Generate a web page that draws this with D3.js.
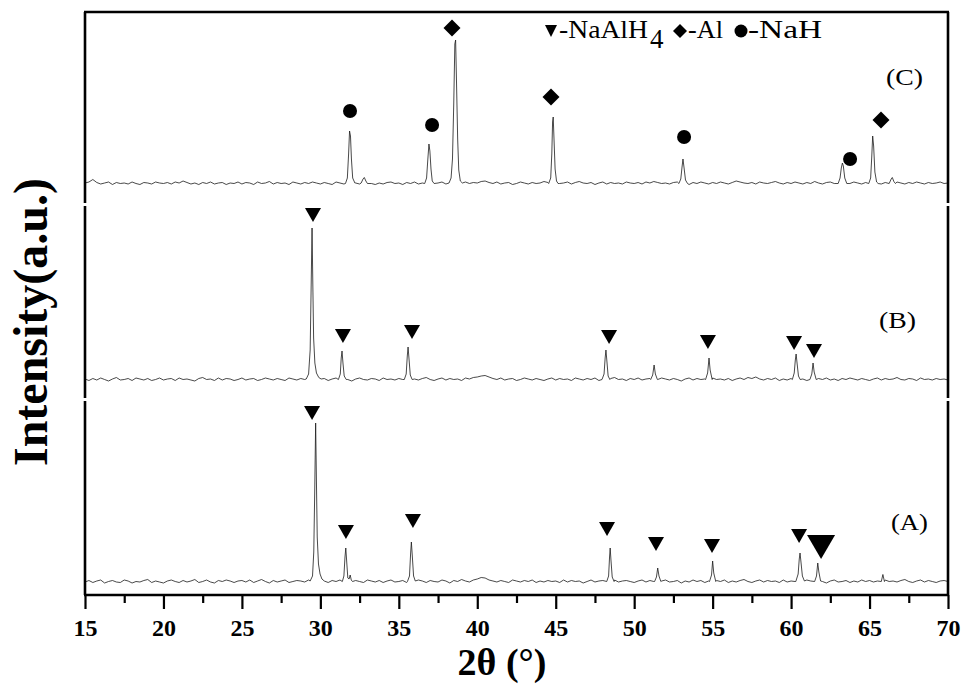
<!DOCTYPE html>
<html>
<head>
<meta charset="utf-8">
<script src="https://cdn.jsdelivr.net/npm/d3@7"></script>
<style>
  body { margin: 0; background: #fff; }
</style>
</head>
<body>
<svg id="chart" width="967" height="685"></svg>
<script>
// ---- data ----
// baseline noise of each pattern, one value every 0.25 deg from 15 to 70 (a.u. above baseline)
var thetaStart = 15, thetaStep = 0.25

var noiseA = [
  0, 15, -5, 10, 20, -10, 5, 15, 0, -5, 20, 10, -10, 5, 0, 15, 25, -5, 10, 0,
  -10, 10, 20, 5, -5, 15, 0, 10, 25, -5, 5, 20, 0, -10, 15, 5, 20, 10, -5, 10,
  15, 0, 20, -5, 10, 25, 5, -10, 15, 0, 10, 20, -5, 5, 15, 10, 0, 20, 5, -5,
  10, 0, -5, 15, 5, 20, -10, 10, 0, 15, 5, -5, 20, 10, 0, 15, -5, 10, 20, 0,
  5, 15, -5, 10, 0, 20, 10, -5, 15, 5, 0, 20, 10, -10, 15, 5, 25, 10, 0, 20,
  30, 45, 40, 20, 10, 0, 15, 5, -5, 20, 10, 0, 15, 5, 20, -5, 10, 0, 15, 5,
  10, -5, 20, 0, 15, 5, 10, -10, 5, 20, 0, 10, 15, -5, 5, 20, 0, 10, 15, 5,
  -5, 10, 20, 0, 15, 5, -5, 10, 20, 0, 5, 15, -10, 10, 0, 20, 5, 15, -5, 10,
  0, 15, 5, 20, -5, 10, 0, 15, 25, 5, -5, 10, 20, 0, 15, 5, 10, -5, 20, 0,
  10, 5, 15, -5, 20, 10, 0, 15, 5, -10, 10, 20, 0, 5, 15, -5, 10, 0, 20, 5,
  15, 0, 10, -5, 20, 5, 10, 0, 15, 25, 5, -5, 10, 20, 0, 15, 5, -5, 10, 15, 5
]
var noiseB = [
  10, -5, 15, 0, 20, 5, -10, 10, 25, 0, 5, 15, -5, 20, 10, 0, 15, -5, 5, 20,
  0, 10, 15, -5, 20, 5, 10, 0, -10, 15, 25, 5, 10, -5, 20, 0, 15, 10, -5, 5,
  20, 0, 10, 15, -5, 5, 20, 10, 0, 15, 5, -5, 20, 10, 0, 15, 5, 25, 0, 10,
  5, 15, -5, 10, 20, 0, 15, 5, -10, 10, 20, 5, 0, 15, 10, -5, 20, 5, 10, 0,
  15, 5, -5, 20, 10, 0, 15, 25, 5, -5, 10, 20, 0, 15, 5, 10, -5, 20, 10, 25,
  30, 40, 45, 30, 15, 5, 20, 0, 10, 15, -5, 5, 20, 10, 0, 15, 5, -5, 10, 20,
  0, 15, 5, 10, -5, 20, 10, 0, 15, 5, 20, -5, 10, 0, 15, 25, 5, 10, -5, 15,
  5, 20, 0, 10, 15, -5, 5, 20, 10, 0, 15, 5, -10, 10, 20, 0, 15, 5, 10, -5,
  20, 5, 10, 0, 15, -5, 10, 20, 5, 25, 15, 30, 10, 0, 15, 5, 20, -5, 10, 0,
  15, 5, 20, 10, -5, 10, 0, 15, 5, 20, 0, 10, -5, 15, 5, 20, 10, 0, 15, 5,
  -5, 10, 20, 0, 15, 5, 10, 25, 5, 0, 15, 10, -5, 20, 5, 10, 0, 15, 5, 10, 0
]
var noiseC = [
  10, 20, 45, 15, 0, 10, 20, -5, 15, 5, 10, 0, 20, 5, -5, 15, 10, 0, 20, 10,
  5, 15, 0, 20, 10, 30, 15, 0, 10, -5, 15, 5, 20, 0, 10, 15, -5, 10, 5, 20,
  0, 15, 10, -5, 20, 5, 10, 25, 0, 15, 5, 10, -5, 20, 10, 0, 15, 5, 20, 10,
  0, 15, 5, -5, 20, 10, 0, 15, 5, 10, 0, 15, 20, 5, -5, 10, 0, 15, 20, 5,
  10, -5, 15, 5, 20, 0, 10, 15, 5, -5, 10, 20, 0, 15, 5, 10, 0, 20, 5, 15,
  10, 25, 30, 15, 5, 20, 0, 10, 15, -5, 5, 20, 10, 0, 15, 5, 10, 25, 15, 0,
  15, 5, 10, 20, 0, 15, 25, 10, 5, 15, -5, 10, 20, 0, 15, 5, 10, 0, 20, 10,
  5, 15, 0, 20, 10, 25, 15, 5, 10, 0, 15, 20, 5, 10, -5, 15, 5, 20, 10, 0,
  15, 5, 20, 10, 0, 15, 30, 20, 10, 5, 15, 0, 20, 10, 5, 15, 25, 10, 0, 15,
  5, 20, 10, 0, 15, 5, 25, 10, 0, 15, 20, 5, 10, 0, 15, 5, 20, 10, 0, 15,
  5, 10, 20, 0, 15, 10, 5, 20, 10, 0, 15, 5, 20, 10, 0, 15, 5, 10, 20, 5, 10
]

// diffraction peaks [2theta, intensity]
var peaksA = [
  [[29.35,10],[29.5,60],[29.58,300],[29.64,900],[29.70,1590],[29.75,1000],[29.80,450],[29.88,180],[29.98,80],[30.1,30],[30.25,10]],
  [[31.4,5],[31.5,60],[31.57,250],[31.62,340],[31.68,200],[31.75,40],[31.83,30],[31.9,70],[31.97,20],[32.05,5]],
  [[35.55,5],[35.68,60],[35.75,280],[35.80,400],[35.86,260],[35.94,60],[36.05,10]],
  [[48.25,5],[48.37,60],[48.43,250],[48.47,340],[48.52,220],[48.6,50],[48.72,5]],
  [[51.3,5],[51.42,50],[51.5,140],[51.58,60],[51.7,5]],
  [[54.8,5],[54.93,70],[55.0,210],[55.07,90],[55.2,5]],
  [[60.3,5],[60.45,80],[60.52,230],[60.57,290],[60.63,200],[60.72,60],[60.85,10]],
  [[61.5,5],[61.62,60],[61.7,190],[61.77,100],[61.88,10]],
  [[65.75,5],[65.85,75],[65.95,5]]
]
var peaksB = [
  [[29.1,10],[29.25,60],[29.35,300],[29.41,900],[29.47,1520],[29.52,950],[29.57,420],[29.65,170],[29.75,70],[29.9,25],[30.05,10]],
  [[31.15,5],[31.27,60],[31.33,220],[31.38,290],[31.44,170],[31.52,40],[31.65,5]],
  [[35.35,5],[35.47,60],[35.54,240],[35.59,330],[35.65,210],[35.73,50],[35.85,5]],
  [[47.95,5],[48.08,60],[48.15,220],[48.2,300],[48.26,190],[48.34,40],[48.45,5]],
  [[51.05,5],[51.18,50],[51.27,150],[51.35,60],[51.48,5]],
  [[54.55,5],[54.68,70],[54.77,220],[54.84,100],[54.97,5]],
  [[60.08,5],[60.2,70],[60.27,200],[60.32,260],[60.38,170],[60.47,40],[60.58,5]],
  [[61.2,5],[61.32,60],[61.4,170],[61.47,80],[61.6,5]]
]
var peaksC = [
  [[31.6,5],[31.72,60],[31.8,300],[31.86,530],[31.92,480],[31.98,250],[32.06,60],[32.2,10]],
  [[32.6,10],[32.72,50],[32.8,65],[32.9,30],[33.0,5]],
  [[36.65,5],[36.77,60],[36.85,250],[36.92,400],[36.98,330],[37.05,150],[37.13,30],[37.25,5]],
  [[38.2,10],[38.33,60],[38.42,250],[38.5,800],[38.57,1400],[38.62,1440],[38.68,1000],[38.75,450],[38.82,140],[38.92,30],[39.05,10]],
  [[44.55,5],[44.68,60],[44.75,300],[44.8,620],[44.84,670],[44.89,450],[44.96,150],[45.05,30],[45.15,5]],
  [[52.85,5],[52.97,50],[53.05,170],[53.11,250],[53.18,160],[53.27,40],[53.4,5]],
  [[63.0,5],[63.12,60],[63.2,160],[63.27,210],[63.33,180],[63.42,60],[63.55,5]],
  [[64.95,5],[65.07,60],[65.14,270],[65.2,480],[65.26,380],[65.34,120],[65.45,20],[65.55,5]],
  [[66.25,5],[66.38,50],[66.45,65],[66.55,25],[66.65,5]]
]

// phase markers [2theta, intensity, phase]
var markersA = [[29.47,1690,"NaAlH4"],[31.63,500,"NaAlH4"],[35.9,610,"NaAlH4"],[48.27,530,"NaAlH4"],[51.39,380,"NaAlH4"],[54.96,360,"NaAlH4"],[60.51,460,"NaAlH4"],[61.91,350,"NaAlH4"]]
var markersB = [[29.53,1650,"NaAlH4"],[31.44,440,"NaAlH4"],[35.84,480,"NaAlH4"],[48.4,430,"NaAlH4"],[54.7,380,"NaAlH4"],[60.19,370,"NaAlH4"],[61.46,290,"NaAlH4"]]
var markersC = [[31.89,730,"NaH"],[37.12,590,"NaH"],[38.39,1560,"Al"],[44.7,870,"Al"],[53.18,470,"NaH"],[63.76,250,"NaH"],[65.73,640,"Al"]]

var sampleNames = ["(A)", "(B)", "(C)"]
var sampleOffsets = [130, 2150, 4110]
var xTicks = [15, 20, 25, 30, 35, 40, 45, 50, 55, 60, 65, 70]

// ---- drawing ----
var serif = "'Liberation Serif', 'Times New Roman', Times, serif"
var svg = d3.select("#chart")
var box = {left: 85, right: 948, top: 12, bottom: 595}

var xScale = d3.scaleLinear().domain([15, 70]).range([box.left, box.right])
var yScale = d3.scaleLinear().domain([0, 5830]).range([box.bottom, box.top])

var buildTrace = function(noise, peaks)
{
    var pts = noise.map(function(v, i){ return [thetaStart + i*thetaStep, v] })
    peaks.forEach(function(pk){
        var lo = pk[0][0], hi = pk[pk.length-1][0]
        pts = pts.filter(function(p){ return p[0] < lo || p[0] > hi }).concat(pk)
    })
    return pts.sort(function(a, b){ return a[0] - b[0] })
}

var samples = [
    {name: sampleNames[0], off: sampleOffsets[0], trace: buildTrace(noiseA, peaksA), markers: markersA, label: [891, 530]},
    {name: sampleNames[1], off: sampleOffsets[1], trace: buildTrace(noiseB, peaksB), markers: markersB, label: [879, 328]},
    {name: sampleNames[2], off: sampleOffsets[2], trace: buildTrace(noiseC, peaksC), markers: markersC, label: [886, 85]}
]

var shape = function(phase, big)
{
    if (phase == "NaAlH4") {
        var w = big ? 14 : 8, h = big ? 12 : 7
        return "M" + (-w) + "," + (-h) + "L" + w + "," + (-h) + "L0," + h + "Z"
    }
    if (phase == "Al") return "M0,-8.5L8.5,0L0,8.5L-8.5,0Z"
    return d3.symbol().type(d3.symbolCircle).size(Math.PI*49)()
}

var lineGen = d3.line()
    .x(function(d){ return xScale(d[0]) })

samples.forEach(function(s, si)
{
    lineGen.y(function(d){ return yScale(d[1] + s.off) })
    svg.append("path")
        .datum(s.trace)
        .attr("d", lineGen)
        .attr("fill", "none")
        .attr("stroke", "#1a1a1a")
        .attr("stroke-width", 0.8)

    svg.append("g").selectAll("path")
        .data(s.markers)
        .enter()
        .append("path")
        .attr("d", function(d, i){ return shape(d[2], si == 0 && i == s.markers.length-1) })
        .attr("transform", function(d){ return "translate(" + xScale(d[0]) + "," + yScale(d[1] + s.off) + ")" })
        .attr("fill", "#000")

    svg.append("text")
        .text(s.name)
        .attr("x", s.label[0])
        .attr("y", s.label[1])
        .attr("font-family", serif)
        .attr("font-size", 24)
        .attr("textLength", 37)
        .attr("lengthAdjust", "spacingAndGlyphs")
})

// frame, with the small breaks between the stacked panels
var frame = svg.append("g").attr("stroke", "#000").attr("stroke-width", 2.6).attr("fill", "none")
frame.append("line").attr("x1", box.left-1).attr("x2", box.right+1).attr("y1", box.top).attr("y2", box.top)
frame.append("line").attr("x1", box.left-1).attr("x2", box.right+1).attr("y1", box.bottom).attr("y2", box.bottom)
var segs = [[box.top, 203], [206, 398], [401, box.bottom]]
segs.forEach(function(sg){
    frame.append("line").attr("x1", box.left).attr("x2", box.left).attr("y1", sg[0]).attr("y2", sg[1])
    frame.append("line").attr("x1", box.right).attr("x2", box.right).attr("y1", sg[0]).attr("y2", sg[1])
})

// x axis
var xAxis = d3.axisBottom(xScale).tickValues(xTicks).tickSize(14).tickSizeOuter(0).tickPadding(10)
var ax = svg.append("g")
    .attr("transform", "translate(0," + box.bottom + ")")
    .call(xAxis)
ax.select(".domain").remove()
ax.selectAll("line").attr("stroke-width", 2.2)
ax.selectAll("text")
    .attr("font-size", 24)
    .attr("font-weight", "bold")
    .attr("font-family", serif)

var minor = d3.axisBottom(xScale).tickValues(xTicks.slice(0, -1).map(function(t){ return t + 2.5 })).tickSize(8).tickFormat("")
var mx = svg.append("g")
    .attr("transform", "translate(0," + box.bottom + ")")
    .call(minor)
mx.select(".domain").remove()
mx.selectAll("line").attr("stroke-width", 2.2)

// titles
svg.append("text")
    .text("2θ (°)")
    .attr("x", 502)
    .attr("y", 675)
    .attr("text-anchor", "middle")
    .attr("font-family", serif)
    .attr("font-size", 38)
    .attr("font-weight", "bold")

svg.append("g")
    .attr("transform", "translate(47,322)")
    .append("text")
    .text("Intensity(a.u.)")
    .attr("transform", "rotate(-90)")
    .attr("text-anchor", "middle")
    .attr("font-family", serif)
    .attr("font-size", 48)
    .attr("font-weight", "bold")

// legend
var legend = svg.append("g").attr("font-family", serif)
legend.append("path").attr("d", "M-6,-6L6,-6L0,6Z").attr("transform", "translate(551,31)")
legend.append("path").attr("d", "M0,-7L7,0L0,7L-7,0Z").attr("transform", "translate(680,31)")
legend.append("circle").attr("cx", 741).attr("cy", 31).attr("r", 6.5)
legend.append("text").text("-NaAlH").attr("x", 559).attr("y", 38).attr("font-size", 25)
    .attr("textLength", 89).attr("lengthAdjust", "spacingAndGlyphs")
legend.append("text").text("4").attr("x", 650).attr("y", 48).attr("font-size", 27)
legend.append("text").text("-Al").attr("x", 688).attr("y", 38).attr("font-size", 25)
    .attr("textLength", 35).attr("lengthAdjust", "spacingAndGlyphs")
legend.append("text").text("-NaH").attr("x", 748).attr("y", 38).attr("font-size", 25)
    .attr("textLength", 74).attr("lengthAdjust", "spacingAndGlyphs")
</script>
</body>
</html>
